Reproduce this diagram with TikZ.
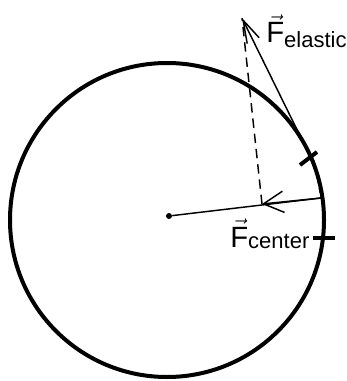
\documentclass[tikz,border=0pt]{standalone}
\usepackage{fontspec}
\setmainfont{Liberation Sans}
\usetikzlibrary{arrows.meta}

\begin{document}
\begin{tikzpicture}[
  x=0.75pt, y=-0.75pt,
  ring/.style={line width=3pt},
  force/.style={line width=1.1pt},
  comp/.style={line width=1.1pt, dash pattern=on 7pt off 4.5pt},
  thincomp/.style={line width=0.8pt, dash pattern=on 4pt off 3pt},
  tickmark/.style={line width=3pt},
  dot/.style={circle, fill, inner sep=0pt, minimum size=4.5pt},
  lbl/.style={inner sep=0pt, anchor=base west}
]
\useasboundingbox (0,0) rectangle (346,381);
% trajectory
\draw[ring] (167,220) circle[radius=157];
\node[dot] (O) at (169,216) {};
\coordinate (P) at (321,198);
\coordinate (A) at (262,204);
\coordinate (T) at (242,18);
\coordinate (E) at (309,154);
% forces
\draw[force] (O) -- (P);
\draw[force, -{Straight Barb[length=15pt, width=16pt]}] (P) -- (A);
\draw[force, -{Straight Barb[length=17pt, width=10pt]}] (E) -- (T);
\draw[comp] (A) -- (T);
\draw[thincomp] (314,160) -- (P);
% marks on the circle
\draw[tickmark] (300,165) -- (317,152);
\draw[tickmark] (313,238) -- (335,238);
% labels
\node[lbl] (felastic) at (266,43) {\fontsize{22}{24}\selectfont$\vec{\mbox{F}}$\raisebox{-3.75pt}{\fontsize{16.5}{18}\selectfont elastic}};
\node[lbl] (fcenter) at (230,247) {\fontsize{22}{24}\selectfont$\vec{\mbox{F}}$\raisebox{-1pt}{\fontsize{16.5}{18}\selectfont center}};
\end{tikzpicture}
\end{document}
